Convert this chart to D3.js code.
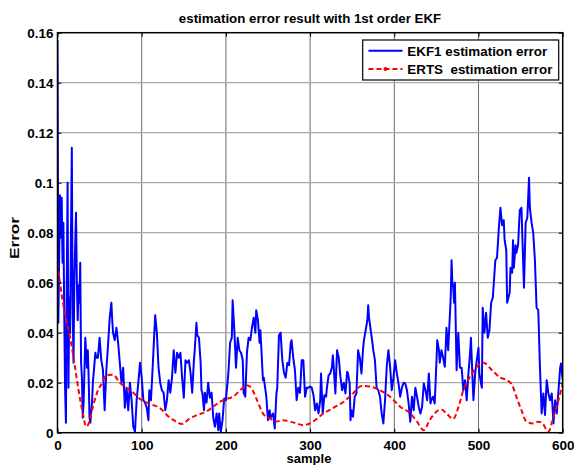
<!DOCTYPE html>
<html>
<head>
<meta charset="utf-8">
<script src="https://cdn.jsdelivr.net/npm/d3@7"></script>
<style>
  html, body { margin: 0; padding: 0; background: #fff; }
  svg { display: block; font-family: "Liberation Sans", Arial, sans-serif; font-weight: bold; }
</style>
</head>
<body>
<svg id="chart" width="574" height="465"></svg>
<script>
// ---------------- data ----------------
const chartTitle = "estimation error result with 1st order EKF";
const xLabel = "sample";
const yLabel = "Error";
const xTicks = [0, 100, 200, 300, 400, 500, 600];
const yTicks = [0, 0.02, 0.04, 0.06, 0.08, 0.1, 0.12, 0.14, 0.16];
const yTickLabels = ["0", "0.02", "0.04", "0.06", "0.08", "0.1", "0.12", "0.14", "0.16"];
const seriesNames = ["EKF1 estimation error", "ERTS  estimation error"];

const ekfSamples = [0,1,2,3,4,5,6,7,8,9,10,11,12,13,14,15,16,17,18,19,20,21,22,23,24,25,26,27,28,29,30,31,33,35,36,37,38,39,41,42,44,45,46,48,50,52,54,56,58,60,62,64,65,66,68,70,72,74,76,78,80,82,84,86,88,90,92,94,96,98,100,102,104,106,108,109,111,113,116,118,120,122,124,126,128,130,132,134,136,138,140,142,144,146,148,150,152,154,156,158,160,162,163,165,166,168,170,171,172,174,175,177,179,181,183,185,187,189,191,192,194,196,198,200,203,205,207,208,210,212,214,216,218,220,221,223,225,227,229,231,233,235,236,238,240,241,244,245,248,250,252,253,256,258,260,261,263,265,267,269,271,273,275,277,278,280,282,284,286,288,290,292,294,296,298,300,302,304,306,308,310,312,313,315,317,319,320,322,324,326,327,328,330,332,334,336,338,340,342,344,345,347,348,349,351,353,355,357,359,361,363,364,366,368,369,370,372,374,375,377,379,381,383,385,387,389,391,393,395,397,399,401,403,405,407,409,411,413,415,417,419,421,423,425,427,429,431,433,435,437,439,441,443,444,446,448,450,451,453,454,456,458,460,462,464,465,467,468,469,470,471,472,474,476,478,480,482,484,486,488,490,491,493,494,496,498,500,501,503,504,505,507,509,511,513,515,517,520,522,524,526,528,530,531,533,534,537,538,540,541,542,544,545,547,549,551,554,556,558,560,561,563,565,567,569,571,573,575,577,579,581,583,585,587,589,591,593,595,597,598,600];
const ekfErrors = [0.157,0.044,0.070,0.095,0.078,0.094,0.068,0.084,0.048,0.018,0.004,0.060,0.100,0.018,0.054,0.040,0.080,0.114,0.050,0.028,0.061,0.075,0.088,0.060,0.045,0.059,0.052,0.068,0.028,0.022,0.006,0.012,0.038,0.026,0.033,0.022,0.006,0.004,0.012,0.020,0.028,0.032,0.030,0.030,0.038,0.029,0.025,0.009,0.025,0.035,0.046,0.052,0.045,0.040,0.037,0.042,0.036,0.028,0.020,0.026,0.010,0.018,0.009,0.020,0.013,0.0024,0.0004,0.013,0.020,0.028,0.022,0.013,0.012,0.010,0.005,0.017,0.013,0.026,0.047,0.040,0.026,0.020,0.017,0.016,0.009,0.013,0.021,0.016,0.022,0.033,0.024,0.032,0.030,0.032,0.022,0.014,0.029,0.028,0.029,0.024,0.016,0.029,0.033,0.044,0.039,0.038,0.028,0.017,0.016,0.009,0.016,0.012,0.020,0.014,0.016,0.006,0.0024,0.0077,0.001,0.0077,0.0004,0.005,0.0137,0.013,0.024,0.036,0.038,0.053,0.041,0.026,0.038,0.033,0.032,0.029,0.016,0.0144,0.032,0.038,0.037,0.042,0.046,0.040,0.049,0.045,0.036,0.041,0.021,0.022,0.0144,0.005,0.009,0.006,0.0077,0.0017,0.0157,0.018,0.039,0.040,0.029,0.024,0.022,0.028,0.027,0.036,0.037,0.030,0.025,0.013,0.018,0.016,0.029,0.029,0.0144,0.018,0.018,0.0184,0.018,0.015,0.009,0.0117,0.0077,0.013,0.0237,0.0077,0.015,0.0144,0.018,0.023,0.0237,0.0264,0.031,0.0264,0.0157,0.033,0.030,0.0224,0.017,0.020,0.0157,0.0244,0.0237,0.0197,0.005,0.009,0.0064,0.0144,0.0157,0.033,0.030,0.0237,0.034,0.037,0.041,0.045,0.051,0.046,0.041,0.036,0.033,0.029,0.018,0.017,0.0144,0.0077,0.0037,0.013,0.0264,0.033,0.0264,0.017,0.022,0.029,0.0237,0.0197,0.0144,0.018,0.020,0.0197,0.017,0.0117,0.0044,0.0144,0.009,0.018,0.0144,0.0104,0.0077,0.0104,0.0197,0.017,0.013,0.0237,0.0117,0.013,0.0144,0.0117,0.028,0.037,0.033,0.028,0.033,0.030,0.0264,0.042,0.033,0.040,0.054,0.069,0.060,0.058,0.052,0.060,0.025,0.040,0.026,0.026,0.017,0.021,0.013,0.0237,0.0317,0.038,0.021,0.013,0.0237,0.029,0.034,0.0237,0.0197,0.018,0.050,0.040,0.048,0.038,0.041,0.052,0.054,0.069,0.070,0.081,0.090,0.083,0.085,0.077,0.073,0.052,0.056,0.066,0.064,0.077,0.066,0.075,0.072,0.075,0.089,0.090,0.058,0.084,0.086,0.102,0.090,0.084,0.080,0.069,0.050,0.049,0.026,0.0077,0.0157,0.0071,0.021,0.0157,0.013,0.0157,0.0037,0.013,0.0077,0.017,0.026,0.0277,0.021];

const ertsSamples = [0,5,10,15,20,25,30,34,37,41,47,53,58,66,74,82,90,98,106,114,122,130,138,148,157,165,177,185,193,201,209,217,225,230,237,244,252,260,268,276,284,292,300,316,328,340,351,361,372,383,395,407,419,427,435,442,450,456,462,470,476,482,490,498,506,516,526,534,540,545,551,557,565,571,576,583,589,595,600];
const ertsErrors = [0.068,0.055,0.046,0.038,0.028,0.017,0.008,0.0024,0.0036,0.009,0.016,0.020,0.023,0.0232,0.020,0.018,0.016,0.0135,0.012,0.011,0.0098,0.007,0.005,0.0035,0.0057,0.007,0.0085,0.0104,0.0124,0.0135,0.0145,0.017,0.019,0.018,0.013,0.0077,0.0057,0.0045,0.005,0.0045,0.0037,0.003,0.0037,0.0077,0.010,0.0124,0.0157,0.0187,0.0184,0.017,0.0144,0.0104,0.0077,0.0044,0.001,0.005,0.0084,0.0093,0.0077,0.0055,0.010,0.017,0.0224,0.0264,0.028,0.025,0.022,0.021,0.019,0.0144,0.009,0.0044,0.0037,0.0044,0.0037,0.0004,0.0064,0.0131,0.0197];

// ---------------- layout ----------------
const svg = d3.select("#chart");
const pL = 57.5, pR = 562.7, pT = 32.7, pB = 432.7;

const x = d3.scaleLinear().domain([0, 600]).range([pL, pR]);
const y = d3.scaleLinear().domain([0, 0.16]).range([pB, pT]);

// grid
const grid = svg.append("g");
grid.selectAll("line.vg").data(xTicks.slice(1, -1)).join("line")
  .attr("x1", d => x(d)).attr("x2", d => x(d))
  .attr("y1", pT).attr("y2", pB)
  .attr("stroke", "#6a6a6a").attr("stroke-width", 1);
grid.selectAll("line.hg").data(yTicks.slice(1, -1)).join("line")
  .attr("x1", pL).attr("x2", pR)
  .attr("y1", d => y(d)).attr("y2", d => y(d))
  .attr("stroke", "#aaaaaa").attr("stroke-width", 1.3);

// series
const ekf = ekfSamples.map((s, i) => [s, ekfErrors[i]]);
const erts = ertsSamples.map((s, i) => [s, ertsErrors[i]]);

svg.append("clipPath").attr("id", "clip")
  .append("rect").attr("x", pL).attr("y", pT - 2).attr("width", pR - pL).attr("height", pB - pT + 2);

const plot = svg.append("g").attr("clip-path", "url(#clip)");

plot.append("path").datum(ekf)
  .attr("d", d3.line().x(d => x(d[0])).y(d => y(d[1])))
  .attr("fill", "none").attr("stroke", "#0000ff").attr("stroke-width", 2).attr("stroke-linejoin", "round");

plot.append("path").datum(erts)
  .attr("d", d3.line().curve(d3.curveMonotoneX).x(d => x(d[0])).y(d => y(d[1])))
  .attr("fill", "none").attr("stroke", "#ff0000").attr("stroke-width", 2)
  .attr("stroke-dasharray", "5,3");

// axes (MATLAB style: inward ticks on all sides)
const tickLen = 4;
const axB = svg.append("g").attr("transform", `translate(0,${pB})`)
  .call(d3.axisBottom(x).tickValues(xTicks).tickSize(-tickLen).tickPadding(5).tickFormat(d3.format("d")));
const axT = svg.append("g").attr("transform", `translate(0,${pT})`)
  .call(d3.axisTop(x).tickValues(xTicks).tickSize(-tickLen).tickFormat(""));
const axL = svg.append("g").attr("transform", `translate(${pL},0)`)
  .call(d3.axisLeft(y).tickValues(yTicks).tickSize(-tickLen).tickPadding(4)
    .tickFormat((d, i) => yTickLabels[i]));
const axR = svg.append("g").attr("transform", `translate(${pR},0)`)
  .call(d3.axisRight(y).tickValues(yTicks).tickSize(-tickLen).tickFormat(""));

[axB, axT, axL, axR].forEach(a => {
  a.select(".domain").remove();
  a.selectAll(".tick line").attr("stroke", "#000").attr("stroke-width", 1);
  a.selectAll("text").attr("font-family", "'Liberation Sans', Arial, sans-serif")
    .attr("font-weight", "bold").attr("font-size", 13.5).attr("fill", "#000");
});
axB.selectAll("text").attr("dy", "0.92em");
axL.selectAll("text").attr("dy", "0.36em");

// box
svg.append("rect").attr("x", pL).attr("y", pT)
  .attr("width", pR - pL).attr("height", pB - pT)
  .attr("fill", "none").attr("stroke", "#000").attr("stroke-width", 1.5);

// title & labels
svg.append("text").attr("x", 310).attr("y", 23).attr("text-anchor", "middle")
  .attr("font-size", 13.3).text(chartTitle);
svg.append("text").attr("x", 309).attr("y", 463).attr("text-anchor", "middle")
  .attr("font-size", 13).text(xLabel);
svg.append("text").attr("transform", `translate(19,238) rotate(-90)`)
  .attr("text-anchor", "middle").attr("font-size", 13.5)
  .attr("textLength", 42).attr("lengthAdjust", "spacingAndGlyphs").text(yLabel);

// legend
const lg = svg.append("g");
lg.append("rect").attr("x", 362.7).attr("y", 40).attr("width", 196).attr("height", 40)
  .attr("fill", "#fff").attr("stroke", "#000").attr("stroke-width", 1.2);
const legendRows = [
  { name: seriesNames[0], color: "#0000ff", dash: null, dot: false, yy: 50.7 },
  { name: seriesNames[1], color: "#ff0000", dash: "5,3", dot: true, yy: 69 }
];
legendRows.forEach(r => {
  lg.append("line").attr("x1", 368.5).attr("x2", 402.5).attr("y1", r.yy).attr("y2", r.yy)
    .attr("stroke", r.color).attr("stroke-width", 2)
    .attr("stroke-dasharray", r.dash);
  if (r.dot) lg.append("circle").attr("cx", 385.5).attr("cy", r.yy).attr("r", 2).attr("fill", r.color);
  lg.append("text").attr("x", 407.3).attr("y", r.yy + 4.8).attr("font-size", 13.4)
    .attr("xml:space", "preserve").style("white-space", "pre").text(r.name);
});
</script>
</body>
</html>
